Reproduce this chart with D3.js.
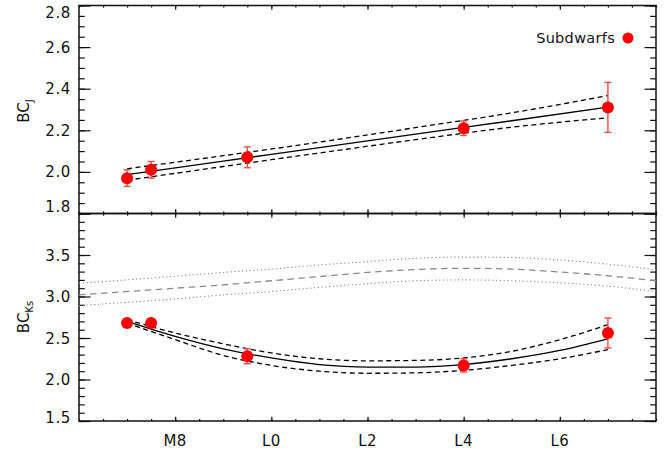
<!DOCTYPE html>
<html>
<head>
<meta charset="utf-8">
<script src="https://cdn.jsdelivr.net/npm/d3@7/dist/d3.min.js"></script>
<style>
  html, body { margin: 0; padding: 0; background: #fff; }
  svg { display: block; }
  text { font-family: "DejaVu Sans", sans-serif; fill: #111; }
</style>
</head>
<body>
<svg id="chart" width="672" height="455"></svg>
<script>
// Spectral type axis: numeric subtype (M6 = 6 ... L8 = 18)
const xTickValues = [8, 10, 12, 14, 16];
const xTickLabels = ["M8", "L0", "L2", "L4", "L6"];

// Subdwarf measurements
const sdType = [7, 7.5, 9.5, 14, 17];
const sdBCJ = [1.97, 2.01, 2.07, 2.21, 2.31];
const sdBCJerr = [0.04, 0.04, 0.05, 0.035, 0.12];
const sdBCKs = [2.68, 2.68, 2.28, 2.17, 2.56];
const sdBCKserr = [0.03, 0.03, 0.09, 0.08, 0.18];

// Subdwarf BC_J relation and its uncertainty envelope
const fitJType = [7, 9, 11, 13, 15, 17];
const fitJ = [1.987, 2.052, 2.117, 2.182, 2.246, 2.311];
const fitJHi = [2.015, 2.078, 2.143, 2.213, 2.284, 2.367];
const fitJLo = [1.960, 2.026, 2.091, 2.155, 2.215, 2.260];

// Subdwarf BC_Ks relation and its uncertainty envelope
const fitKType = [7, 8, 9, 10, 11, 12, 13, 14, 15, 16, 17];
const fitK = [2.70, 2.52, 2.37, 2.26, 2.18, 2.15, 2.15, 2.18, 2.25, 2.35, 2.49];
const fitKHi = [2.72, 2.56, 2.43, 2.32, 2.25, 2.225, 2.23, 2.26, 2.34, 2.48, 2.66];
const fitKLo = [2.68, 2.48, 2.29, 2.17, 2.10, 2.075, 2.08, 2.11, 2.17, 2.25, 2.36];

// Field-dwarf BC_Ks relation (dashed) with rms scatter (dotted)
const fieldType = [6, 7, 8, 9, 10, 11, 12, 13, 14, 15, 16, 17, 18];
const fieldKs = [3.02, 3.06, 3.10, 3.14, 3.19, 3.24, 3.29, 3.325, 3.34, 3.33, 3.295, 3.25, 3.19];
const fieldKsHi = [3.16, 3.20, 3.245, 3.29, 3.33, 3.38, 3.42, 3.46, 3.475, 3.47, 3.44, 3.39, 3.32];
const fieldKsLo = [2.89, 2.93, 2.97, 3.02, 3.06, 3.11, 3.155, 3.19, 3.20, 3.19, 3.165, 3.125, 3.06];

const topTicks = [1.8, 2.0, 2.2, 2.4, 2.6, 2.8];
const botTicks = [1.5, 2.0, 2.5, 3.0, 3.5, 4.0];

const svg = d3.select("#chart");
const L = 79, R = 656, T = 5.5, MID = 213.5, B = 421;

const x = d3.scaleLinear().domain([6, 18]).range([L, R]);
const yTop = d3.scaleLinear().domain([1.8, 2.8]).range([MID, T]);
const yBot = d3.scaleLinear().domain([1.5, 4.0]).range([B, MID]);

const xMinor = d3.range(6, 18.01, 0.5);
const yTopMinor = d3.range(1.8, 2.801, 0.05).map(v => +v.toFixed(2));
const yBotMinor = d3.range(1.5, 4.001, 0.1).map(v => +v.toFixed(2));

const xMaj = 4.2, xMin = 2.1, yMaj = 11.5, yMin = 5.8;

function drawTicks(g, axisFn, scale, majors, minors, majLen, minLen) {
  g.append("g").call(axisFn(scale).tickValues(minors).tickSize(-minLen).tickSizeOuter(0).tickFormat(""))
    .call(s => s.select(".domain").remove());
  g.append("g").call(axisFn(scale).tickValues(majors).tickSize(-majLen).tickSizeOuter(0).tickFormat(""))
    .call(s => s.select(".domain").remove());
}

function panelFrame(top, bottom, yScale, yMajors, yMinors) {
  const g = svg.append("g");
  drawTicks(g.append("g").attr("transform", `translate(${L},0)`), d3.axisLeft, yScale, yMajors, yMinors, yMaj, yMin);
  drawTicks(g.append("g").attr("transform", `translate(${R},0)`), d3.axisRight, yScale, yMajors, yMinors, yMaj, yMin);
  drawTicks(g.append("g").attr("transform", `translate(0,${top})`), d3.axisTop, x, xTickValues, xMinor, xMaj, xMin);
  drawTicks(g.append("g").attr("transform", `translate(0,${bottom})`), d3.axisBottom, x, xTickValues, xMinor, xMaj, xMin);
  g.selectAll("line").attr("stroke", "#111").attr("stroke-width", 1.2);
  g.append("rect").attr("x", L).attr("y", top).attr("width", R - L).attr("height", bottom - top)
    .attr("fill", "none").attr("stroke", "#111").attr("stroke-width", 1.5);
}

panelFrame(T, MID, yTop, topTicks, yTopMinor);
panelFrame(MID, B, yBot, botTicks, yBotMinor);

// Y tick labels
function yLabels(yScale, values, fmt, shifts) {
  svg.append("g").selectAll("text").data(values).join("text")
    .attr("x", L - 8)
    .attr("y", d => yScale(d) + 5.5 + (shifts[d] || 0))
    .attr("text-anchor", "end")
    .attr("font-size", 15)
    .attr("letter-spacing", 0.6)
    .text(fmt);
}
yLabels(yTop, topTicks, d3.format(".1f"), { 2.8: 7, 1.8: -7 });
yLabels(yBot, botTicks.filter(v => v < 4), d3.format(".1f"), { 1.5: -4 });

// X tick labels
svg.append("g").selectAll("text").data(xTickValues).join("text")
  .attr("x", (d, i) => x(d))
  .attr("y", 446)
  .attr("text-anchor", "middle")
  .attr("font-size", 15)
  .attr("letter-spacing", 0.4)
  .text((d, i) => xTickLabels[i]);

// Axis titles
function yTitle(cy, main, sub) {
  const t = svg.append("text")
    .attr("transform", `translate(29,${cy}) rotate(-90)`)
    .attr("text-anchor", "middle")
    .attr("font-size", 15);
  t.append("tspan").text(main);
  t.append("tspan").attr("font-size", 10).attr("dy", 4).text(sub);
}
yTitle(111, "BC", "J");
yTitle(317, "BC", "Ks");

// Curves
const lineTop = d3.line().x(d => x(d[0])).y(d => yTop(d[1])).curve(d3.curveMonotoneX);
const lineBot = d3.line().x(d => x(d[0])).y(d => yBot(d[1])).curve(d3.curveMonotoneX);
const zip = (a, b) => a.map((v, i) => [v, b[i]]);

function curve(gen, xs, ys, color, dash, width) {
  svg.append("path").attr("d", gen(zip(xs, ys)))
    .attr("fill", "none").attr("stroke", color).attr("stroke-width", width)
    .attr("stroke-dasharray", dash);
}

curve(lineBot, fieldType, fieldKsHi, "#8a8a8a", "1.2,2.6", 1.1);
curve(lineBot, fieldType, fieldKsLo, "#8a8a8a", "1.2,2.6", 1.1);
curve(lineBot, fieldType, fieldKs, "#8a8a8a", "6.5,4.5", 1.3);

curve(lineTop, fitJType, fitJ, "#000", null, 1.3);
curve(lineTop, fitJType, fitJHi, "#000", "5,3.5", 1.3);
curve(lineTop, fitJType, fitJLo, "#000", "5,3.5", 1.3);

curve(lineBot, fitKType, fitK, "#000", null, 1.3);
curve(lineBot, fitKType, fitKHi, "#000", "5,3.5", 1.3);
curve(lineBot, fitKType, fitKLo, "#000", "5,3.5", 1.3);

// Points with error bars
function points(yScale, vals, errs) {
  const g = svg.append("g");
  const data = sdType.map((t, i) => ({ t, v: vals[i], e: errs[i] }));
  const eb = g.selectAll("g.eb").data(data).join("g").attr("stroke", "#ff4a4a").attr("stroke-width", 1.4);
  eb.append("line").attr("x1", d => x(d.t)).attr("x2", d => x(d.t))
    .attr("y1", d => yScale(d.v - d.e)).attr("y2", d => yScale(d.v + d.e));
  eb.append("line").attr("x1", d => x(d.t) - 3.5).attr("x2", d => x(d.t) + 3.5)
    .attr("y1", d => yScale(d.v - d.e)).attr("y2", d => yScale(d.v - d.e));
  eb.append("line").attr("x1", d => x(d.t) - 3.5).attr("x2", d => x(d.t) + 3.5)
    .attr("y1", d => yScale(d.v + d.e)).attr("y2", d => yScale(d.v + d.e));
  g.selectAll("circle").data(data).join("circle")
    .attr("cx", d => x(d.t)).attr("cy", d => yScale(d.v)).attr("r", 6)
    .attr("fill", "#ff0000");
}
points(yTop, sdBCJ, sdBCJerr);
points(yBot, sdBCKs, sdBCKserr);

// Legend
svg.append("text").attr("x", 615).attr("y", 43).attr("text-anchor", "end")
  .attr("font-size", 14.5).attr("letter-spacing", 0.3).text("Subdwarfs");
svg.append("circle").attr("cx", 628).attr("cy", 38).attr("r", 5.5).attr("fill", "#ff0000");
</script>
</body>
</html>
